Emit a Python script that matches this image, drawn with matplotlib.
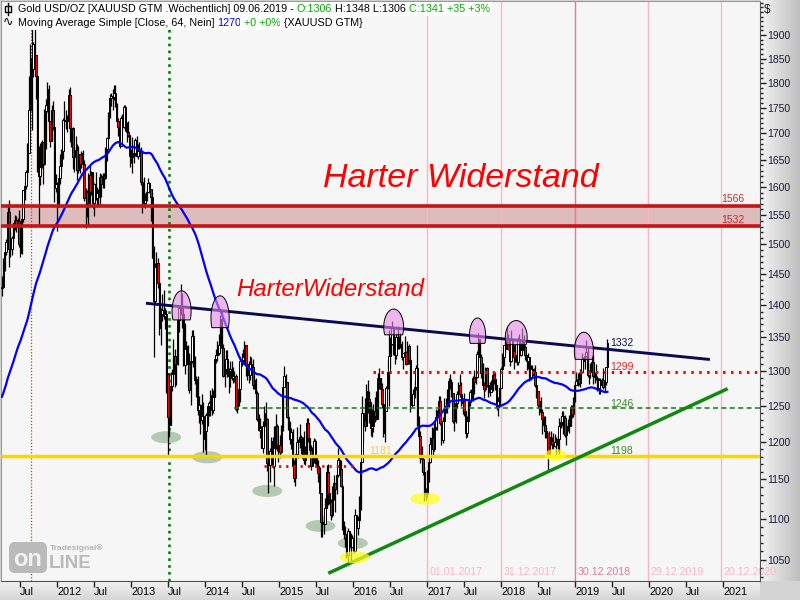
import numpy as np
import pandas as pd
import matplotlib
matplotlib.use('Agg')
import matplotlib.pyplot as plt
import matplotlib.dates as mdates
from matplotlib.patches import Polygon, Rectangle, FancyBboxPatch
from matplotlib.lines import Line2D
from matplotlib.colors import LinearSegmentedColormap
from matplotlib.ticker import FixedLocator, FixedFormatter, NullFormatter
from matplotlib.transforms import IdentityTransform

plt.rcParams['font.family'] = ['Liberation Sans', 'DejaVu Sans']

# =============================================================================
# Gold USD/OZ weekly bars, Apr 2011 .. 09.06.2019 (one row per year)
# =============================================================================
close = [
    1429,1474,1486,1504,1556,1492,1492,1511,1536,1542,1529,1539,1501,1485,1543,1594,1602,1628,1663,1745,1852,1828,1880,1857,1813,1657,1620,1636,1683,1642,1743,1755,1788,1724,1685,1745,1713,1598,1606,1565,
    1616,1639,1666,1726,1725,1725,1724,1776,1711,1711,1656,1662,1668,1631,1660,1642,1663,1643,1580,1592,1572,1622,1591,1627,1572,1605,1580,1590,1583,1619,1605,1620,1616,1671,1692,1738,1770,1773,1772,1780,1758,1724,1712,1676,1730,1713,1751,1713,1702,1697,1657,1656,
    1656,1662,1687,1658,1667,1667,1609,1581,1572,1577,1592,1607,1597,1582,1476,1406,1462,1469,1436,1364,1386,1393,1383,1387,1296,1234,1223,1278,1296,1322,1310,1313,1377,1396,1396,1387,1308,1333,1337,1310,1272,1315,1352,1315,1286,1288,1244,1251,1230,1236,1203,1214,
    1237,1249,1253,1265,1244,1262,1318,1323,1326,1338,1379,1334,1293,1303,1318,1293,1300,1302,1290,1293,1293,1245,1252,1274,1315,1316,1320,1338,1310,1306,1294,1310,1305,1280,1287,1268,1231,1216,1218,1192,1222,1239,1231,1171,1169,1188,1201,1167,1192,1222,1195,1195,
    1186,1216,1276,1293,1283,1234,1227,1203,1213,1167,1152,1183,1199,1201,1207,1203,1178,1175,1189,1225,1205,1189,1168,1180,1201,1173,1168,1158,1132,1096,1095,1094,1113,1160,1133,1121,1104,1139,1145,1137,1156,1176,1163,1142,1088,1081,1076,1056,1085,1075,1065,1076,
    1061,1104,1089,1098,1116,1173,1239,1230,1222,1270,1259,1255,1219,1222,1243,1235,1231,1290,1290,1273,1252,1212,1243,1275,1298,1322,1340,1366,1327,1323,1351,1335,1335,1340,1321,1327,1328,1310,1337,1316,1257,1251,1266,1276,1304,1225,1208,1178,1177,1160,1134,1131,1152,
    1173,1197,1205,1190,1220,1234,1239,1257,1226,1202,1229,1248,1249,1254,1285,1284,1268,1228,1228,1254,1267,1280,1266,1254,1257,1242,1212,1228,1255,1269,1258,1289,1284,1291,1325,1347,1320,1297,1280,1274,1304,1280,1272,1269,1274,1294,1288,1279,1248,1256,1275,1303,
    1320,1338,1333,1349,1333,1315,1347,1329,1321,1324,1313,1347,1323,1331,1345,1335,1323,1315,1320,1291,1302,1294,1298,1279,1270,1251,1256,1241,1231,1223,1214,1212,1184,1206,1201,1197,1194,1199,1196,1203,1222,1227,1235,1232,1209,1222,1222,1222,1248,1238,1257,1280,
    1285,1288,1282,1298,1318,1314,1322,1328,1294,1299,1302,1313,1292,1291,1290,1275,1287,1280,1286,1277,1284,1306,1341,
]
high = [
    1447,1476,1487,1509,1569,1577,1522,1514,1537,1550,1549,1545,1559,1512,1545,1595,1610,1632,1682,1814,1881,1912,1885,1921,1836,1805,1676,1681,1688,1672,1747,1768,1802,1795,1715,1755,1764,1709,1624,1609,
    1625,1661,1670,1730,1764,1745,1736,1787,1792,1715,1712,1674,1695,1680,1676,1654,1667,1668,1650,1598,1594,1626,1640,1629,1628,1607,1627,1600,1597,1625,1623,1625,1626,1675,1694,1742,1778,1779,1788,1796,1795,1760,1730,1723,1733,1738,1755,1755,1722,1725,1697,1670,
    1694,1679,1692,1695,1680,1684,1674,1615,1619,1589,1596,1616,1609,1587,1591,1497,1469,1487,1477,1440,1396,1418,1424,1395,1393,1297,1268,1298,1302,1348,1333,1322,1378,1398,1434,1420,1390,1372,1344,1338,1327,1324,1361,1361,1322,1292,1292,1264,1252,1267,1255,1217,
    1239,1251,1256,1272,1275,1272,1320,1332,1345,1355,1384,1392,1340,1308,1331,1331,1304,1315,1315,1305,1300,1295,1256,1277,1321,1326,1332,1345,1320,1312,1315,1322,1320,1318,1293,1290,1270,1238,1233,1221,1228,1249,1255,1233,1177,1191,1207,1207,1221,1238,1224,1201,
    1209,1223,1282,1307,1295,1283,1240,1229,1219,1217,1175,1184,1220,1204,1224,1209,1206,1215,1194,1232,1232,1204,1196,1193,1205,1204,1182,1175,1166,1127,1105,1103,1126,1169,1170,1146,1125,1141,1156,1140,1158,1191,1180,1176,1144,1097,1091,1080,1088,1085,1082,1080,
    1081,1112,1101,1103,1128,1175,1263,1240,1260,1281,1287,1271,1255,1245,1252,1262,1270,1297,1304,1288,1282,1251,1244,1278,1316,1362,1350,1375,1360,1337,1356,1367,1352,1357,1345,1327,1352,1330,1344,1340,1320,1266,1274,1285,1308,1338,1236,1214,1194,1180,1168,1139,1162,
    1183,1207,1220,1219,1226,1245,1244,1264,1264,1234,1234,1260,1261,1273,1289,1296,1288,1268,1236,1264,1270,1283,1296,1284,1260,1268,1243,1235,1257,1272,1274,1292,1301,1300,1330,1357,1339,1325,1312,1283,1306,1306,1284,1283,1287,1297,1298,1299,1278,1262,1279,1305,
    1326,1339,1345,1366,1355,1339,1361,1339,1338,1340,1329,1350,1355,1342,1365,1353,1338,1318,1326,1320,1308,1308,1304,1309,1280,1270,1266,1262,1245,1236,1235,1220,1211,1214,1214,1206,1212,1211,1207,1209,1233,1236,1243,1243,1237,1225,1231,1237,1251,1251,1262,1283,
    1298,1297,1298,1303,1326,1320,1327,1346,1336,1301,1311,1320,1324,1298,1310,1292,1289,1289,1290,1304,1287,1306,1348,
]
low = [
    1415,1427,1455,1482,1498,1462,1478,1481,1503,1524,1521,1513,1495,1478,1483,1538,1576,1597,1612,1682,1741,1706,1812,1833,1768,1627,1534,1603,1634,1605,1640,1670,1742,1706,1675,1690,1706,1574,1591,1523,
    1565,1605,1628,1652,1711,1709,1702,1722,1684,1674,1633,1627,1651,1612,1626,1625,1635,1630,1575,1527,1547,1532,1566,1585,1563,1548,1576,1564,1567,1567,1582,1598,1598,1615,1648,1687,1729,1753,1745,1766,1752,1720,1695,1673,1676,1705,1711,1705,1683,1693,1636,1644,
    1626,1645,1657,1655,1652,1661,1604,1554,1565,1562,1575,1593,1590,1539,1476,1321,1404,1444,1428,1353,1338,1375,1378,1363,1268,1180,1207,1223,1271,1288,1276,1280,1309,1359,1394,1365,1307,1295,1311,1277,1268,1251,1311,1306,1281,1262,1237,1226,1211,1224,1186,1189,
    1182,1222,1236,1236,1237,1240,1262,1311,1314,1323,1337,1321,1291,1277,1295,1291,1268,1277,1286,1282,1284,1243,1240,1250,1255,1307,1310,1311,1292,1287,1282,1286,1298,1273,1274,1262,1229,1214,1205,1191,1185,1219,1227,1161,1132,1147,1180,1165,1142,1190,1187,1173,
    1178,1185,1214,1277,1251,1232,1216,1197,1190,1164,1147,1142,1180,1178,1191,1183,1175,1170,1169,1182,1199,1182,1162,1171,1172,1170,1161,1146,1131,1077,1078,1081,1093,1114,1117,1118,1098,1102,1124,1108,1131,1153,1160,1140,1086,1075,1065,1052,1046,1062,1047,1065,
    1058,1061,1072,1080,1096,1111,1174,1200,1215,1230,1240,1225,1208,1206,1213,1227,1230,1232,1274,1260,1247,1207,1199,1242,1273,1250,1302,1339,1324,1310,1317,1333,1332,1334,1316,1303,1323,1308,1310,1310,1241,1248,1251,1261,1272,1221,1204,1171,1160,1156,1122,1124,1127,
    1146,1171,1194,1180,1187,1216,1216,1233,1223,1195,1198,1228,1240,1240,1248,1274,1262,1226,1214,1225,1247,1259,1262,1250,1238,1236,1205,1206,1227,1250,1255,1256,1267,1281,1290,1324,1316,1289,1276,1260,1271,1276,1262,1264,1269,1271,1281,1272,1244,1236,1251,1275,
    1302,1307,1325,1332,1331,1307,1313,1321,1302,1313,1309,1308,1321,1322,1325,1331,1316,1301,1303,1285,1286,1291,1291,1276,1261,1246,1237,1237,1211,1219,1205,1205,1160,1180,1196,1190,1190,1193,1181,1187,1183,1218,1221,1211,1207,1196,1214,1212,1221,1233,1234,1255,
    1279,1278,1279,1276,1297,1302,1302,1320,1291,1281,1289,1297,1281,1282,1286,1270,1266,1267,1279,1273,1269,1279,1306,
]
# closes of the weeks before the first bar (feed the 64-week average)
pre_close = [
    1104,
    1097,1138,1130,1091,1083,1053,1092,1117,1118,1133,1102,1105,1105,1126,1161,1136,1152,1179,1209,1228,1176,1212,1219,1229,1256,1256,1208,1210,1189,1188,1182,1204,1217,1228,1237,1247,1246,1276,1297,1318,1346,1369,1325,1357,1394,1367,1353,1362,1406,1385,1377,1380,1421,
    1369,1361,1342,1341,1348,1360,1388,1409,1429,1421,1419,1427,
]
last_bar = '2019-06-09'
ma_len = 64

# drawn levels / trend lines
zone_low, zone_high = 1532, 1566
support_181 = 1181
level_1299 = 1299
level_1246 = 1246
level_1167 = 1167
res_line = (('2013-03-21', 1403), ('2020-10-20', 1317))
sup_line = (('2015-09-08', 1035), ('2021-01-15', 1273))
year_marks = ['2017-01-01', '2017-12-31', '2018-12-30', '2019-12-29', '2020-12-20']
year_labels = ['01.01.2017', '31.12.2017', '30.12.2018', '29.12.2019', '20.12.2020']

# tops (pink) and lows (grey / yellow)
tops = [('2013-09-06', 1423, 1377, 47), ('2014-03-15', 1415, 1365, 45),
        ('2016-07-19', 1394, 1354, 49), ('2017-09-06', 1380, 1341, 40),
        ('2018-03-16', 1376, 1339, 54), ('2019-02-13', 1358, 1317, 47)]
lows_grey = [('2013-06-22', 1206), ('2014-01-11', 1179), ('2014-11-03', 1135),
             ('2015-07-24', 1091), ('2015-12-30', 1070)]
lows_yellow = [('2016-01-09', 1053, 74), ('2016-12-23', 1125, 74), ('2018-09-26', 1182, 54)]


def d(s):
    return mdates.date2num(pd.Timestamp(s))


close = np.array(close, float)
opens = np.r_[pre_close[-1], close[:-1]]
high = np.maximum(np.array(high, float), np.maximum(opens, close))
low = np.minimum(np.array(low, float), np.minimum(opens, close))
dates = pd.date_range(end=last_bar, periods=len(close), freq='7D')
xs = mdates.date2num(dates)
ma = pd.Series(np.r_[pre_close, close]).rolling(ma_len).mean().to_numpy()[len(pre_close):]

W, H = 800, 600
fig = plt.figure(figsize=(8, 6), dpi=100)
fig.patch.set_facecolor('#d4d4d4')

# gradient backgrounds of the two scale strips
ax_r = fig.add_axes([759.5 / W, 19 / H, 40.5 / W, 581 / H])
ax_r.imshow(np.linspace(0, 1, 64)[None, :], aspect='auto',
            cmap=LinearSegmentedColormap.from_list('r', ['#f4f4f4', '#bdbdbd']))
ax_r.axis('off')
ax_b = fig.add_axes([0, 0, 759.5 / W, 19 / H])
ax_b.imshow(np.linspace(0, 1, 32)[:, None], aspect='auto',
            cmap=LinearSegmentedColormap.from_list('b', ['#f2f2f2', '#d6d6d6']))
ax_b.axis('off')

ax = fig.add_axes([0.5 / W, 19 / H, 759 / W, 580 / H])
ax.set_facecolor('#f6f6f6')
ax.set_yscale('log')
x0, x1 = d('2011-03-27'), d('2021-06-29')
ax.set_xlim(x0, x1)
ax.set_ylim(1025.2, 1974.4)

# resistance zone
ax.axhspan(zone_low, zone_high, color='#dcbcbc', zorder=1)
ax.hlines([zone_low, zone_high], x0, x1, color='#c81414', lw=2.6, zorder=6)

# vertical markers
ax.axvline(d('2011-08-27'), color='#d04010', ls=(0, (1, 1.5)), lw=0.9, zorder=1)
ax.axvline(d('2013-07-08'), color='#008000', ls=(0, (1, 1.6)), lw=1.9, zorder=1)
for s, lab in zip(year_marks, year_labels):
    col = '#e27a9c' if s == '2018-12-30' else '#ffb4c4'
    ax.axvline(d(s), color=col, lw=1, zorder=1)
    ax.text(d(s) + 12, 1032, lab, color=col, fontsize=7.7, va='baseline', zorder=2)


def oval(xc, pc, half_w, rel_h=0.0068, **kw):
    t = np.linspace(0, 2 * np.pi, 80)
    u = np.log(pc) + rel_h * np.sin(t)
    return Polygon(np.c_[xc + half_w * np.cos(t), np.exp(u)], closed=True, **kw)


def dome(xc, p_top, p_bot, half_w, **kw):
    ub, ut = np.log(p_bot), np.log(p_top)
    uc = ub + 0.3 * (ut - ub)
    b = ut - uc
    t0 = np.arcsin((ub - uc) / b)
    t = np.linspace(t0, np.pi - t0, 60)
    return Polygon(np.c_[xc + half_w * np.cos(t), np.exp(uc + b * np.sin(t))], closed=True, **kw)


for s, p in lows_grey:
    ax.add_patch(oval(d(s), p, 74, fc='#b2cab2', ec='none', zorder=2))

# candles
up = close >= opens
ax.vlines(xs, low, high, color='black', lw=0.9, zorder=3)
ax.bar(xs, np.abs(close - opens), bottom=np.minimum(opens, close), width=7.0,
       color=np.where(up, 'white', '#ff0000'), edgecolor='black', linewidth=0.7, zorder=3)

# 64-week simple moving average
ax.plot(xs, ma, color='#0000ff', lw=1.6, zorder=4)

# levels and trend lines
ax.hlines(support_181, x0, x1, color='#ffd400', lw=2.5, zorder=5)
ax.hlines(level_1299, d('2016-04-10'), x1, color='#ff0000', ls=(0, (0.8, 1.8)), lw=2.2, zorder=5)
ax.hlines(level_1167, d('2014-10-19'), d('2016-01-13'), color='#ff0000', ls=(0, (0.8, 1.8)), lw=2.0, zorder=5)
ax.hlines(level_1246, d('2014-05-21'), x1, color='#108010', ls=(0, (3.3, 2.2)), lw=1.1, zorder=5)
(a, pa), (b, pb) = res_line
ax.plot([d(a), d(b)], [pa, pb], color='#0a0a50', lw=2.1, zorder=5)
(a, pa), (b, pb) = sup_line
ax.plot([d(a), d(b)], [pa, pb], color='#118811', lw=2.5, zorder=5)

for s, pt, pbm, hw in tops:
    ax.add_patch(dome(d(s), pt, pbm, hw, fc=(0.9, 0.55, 0.9, 0.6), ec='black', lw=0.7, zorder=6))
for s, p, hw in lows_yellow:
    ax.add_patch(oval(d(s), p, hw, fc=(1, 1, 0.1, 0.72), ec='none', zorder=6))

# value labels
ax.text(d('2019-06-21'), 1336.5, '1332', color='#101050', fontsize=7.5, va='baseline', zorder=7)
ax.text(d('2019-06-21'), 1301, '1299', color='#ff2020', fontsize=7.5, va='baseline', zorder=7)
ax.text(d('2019-06-21'), 1248, '1246', color='#3a8a2a', fontsize=7.5, va='baseline', zorder=7)
ax.text(d('2019-06-21'), 1183, '1198', color='#3a8a2a', fontsize=7.5, va='baseline', zorder=7)
ax.text(d('2016-03-19'), 1184, '1181', color='#f4d050', fontsize=7.5, va='baseline', zorder=7)
ax.text(d('2020-12-23'), 1573.8, '1566', color='#d02828', fontsize=7.5, va='baseline', zorder=7)
ax.text(d('2020-12-23'), 1537, '1532', color='#d02828', fontsize=7.5, va='baseline', zorder=7)

ax.text(d('2017-06-14'), 1600, 'Harter Widerstand', color='#ff0000', fontsize=24.5,
        style='italic', ha='center', va='baseline', zorder=7)
ax.text(d('2015-09-11'), 1414.7, 'HarterWiderstand', color='#ff0000', fontsize=17.3,
        style='italic', ha='center', va='baseline', zorder=7)

# price scale on the right
majors = list(range(1050, 1901, 50))
ax.yaxis.tick_right()
ax.yaxis.set_major_locator(FixedLocator(majors))
ax.yaxis.set_major_formatter(FixedFormatter([str(v) for v in majors]))
ax.yaxis.set_minor_locator(FixedLocator(list(range(1030, 1971, 10))))
ax.yaxis.set_minor_formatter(NullFormatter())
ax.tick_params(axis='y', which='major', direction='out', length=4, width=1, pad=1.5,
               labelsize=7.5, labelcolor='#1a1a3a', color='#202020')
ax.tick_params(axis='y', which='minor', direction='out', length=2, width=1, color='#202020')

# time scale
tick_d, tick_l = [], []
for yr in range(2011, 2022):
    for m, lab in ((1, str(yr)), (7, 'Jul')):
        t = d(f'{yr}-{m:02d}-01')
        if x0 <= t <= x1:
            tick_d.append(t)
            tick_l.append(lab)
ax.xaxis.set_major_locator(FixedLocator(tick_d))
ax.xaxis.set_major_formatter(FixedFormatter(tick_l))
ax.xaxis.set_minor_locator(FixedLocator([]))
ax.tick_params(axis='x', direction='out', length=4, width=1, pad=0.5, labelsize=7.8, color='#202020')
for lbl in ax.get_xticklabels():
    lbl.set_horizontalalignment('left')

for side in ('left', 'top'):
    ax.spines[side].set_color('#9a9a9a')
for side in ('right', 'bottom'):
    ax.spines[side].set_color('#505050')

# header lines
px = IdentityTransform()
r = fig.canvas.get_renderer()


def header(x, y, parts):
    for s, col in parts:
        t = fig.text(x, H - y, s, color=col, fontsize=7.75, va='center', ha='left', transform=px,
                     bbox=dict(facecolor='white', edgecolor='none', pad=1.2))
        x = t.get_window_extent(r).x1


header(18, 9, [('Gold USD/OZ [XAUUSD GTM .Wöchentlich] 09.06.2019 - ', 'black'),
               ('O:1306', '#00b000'), (' H:1348 L:1306 ', 'black'), ('C:1341 +35 +3%', '#00b000')])
header(18, 23, [('Moving Average Simple [Close, 64, Nein] ', 'black'), ('1270', '#0000ff'),
                (' +0 +0%', '#00b000'), (' {XAUUSD GTM}', 'black')])
fig.add_artist(Line2D([8, 8], [H - 15, H - 3], color='black', lw=1, transform=px))
fig.add_artist(Rectangle((5, H - 12), 6, 6, fc='white', ec='black', lw=1, transform=px))
fig.text(3, H - 23, '∿', fontsize=9, va='center', ha='left', transform=px)
fig.text(764, H - 10, '$', fontsize=8.5, color='#1a1a3a', va='center', ha='left', transform=px)

# Tradesignal online logo
fig.add_artist(FancyBboxPatch((9, H - 573), 38, 31, boxstyle='round,pad=0,rounding_size=6',
                              fc='#bababa', ec='none', transform=px))
fig.text(28, H - 560, 'on', fontsize=17, weight='bold', color='#f2f2f2', ha='center',
         va='center', transform=px)
fig.text(49, H - 564, 'LINE', fontsize=13.5, weight='bold', color='#bababa', ha='left',
         va='center', transform=px)
fig.text(50, H - 548, 'Tradesignal®', fontsize=6, weight='bold', color='#b4b4b4', ha='left',
         va='center', transform=px)

fig.savefig('out.png', dpi=100, facecolor=fig.get_facecolor())
